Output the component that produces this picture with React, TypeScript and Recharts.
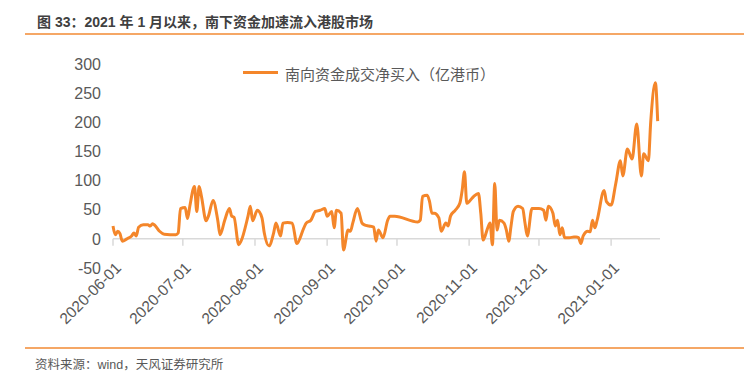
import React from "react";
import { LineChart, Line, XAxis, YAxis, ReferenceLine } from "recharts";

// 南向资金成交净买入（亿港币），日期与数值均从原图读取
const dates = [
  "2020-06-01", "2020-06-02", "2020-06-03", "2020-06-04", "2020-06-05", "2020-06-07", "2020-06-09", "2020-06-10",
  "2020-06-11", "2020-06-12", "2020-06-14", "2020-06-16", "2020-06-17", "2020-06-18", "2020-06-19", "2020-06-21",
  "2020-06-23", "2020-06-28", "2020-06-29", "2020-06-30", "2020-07-02", "2020-07-03", "2020-07-04", "2020-07-06",
  "2020-07-07", "2020-07-08", "2020-07-09", "2020-07-11", "2020-07-12", "2020-07-14", "2020-07-16", "2020-07-17",
  "2020-07-19", "2020-07-21", "2020-07-22", "2020-07-23", "2020-07-25", "2020-07-26", "2020-07-29", "2020-07-30",
  "2020-07-31", "2020-08-02", "2020-08-04", "2020-08-05", "2020-08-07", "2020-08-09", "2020-08-10", "2020-08-12",
  "2020-08-13", "2020-08-15", "2020-08-17", "2020-08-19", "2020-08-22", "2020-08-23", "2020-08-25", "2020-08-27",
  "2020-08-29", "2020-08-31", "2020-09-01", "2020-09-03", "2020-09-04", "2020-09-05", "2020-09-07", "2020-09-08",
  "2020-09-10", "2020-09-11", "2020-09-12", "2020-09-14", "2020-09-16", "2020-09-17", "2020-09-19", "2020-09-21",
  "2020-09-22", "2020-09-23", "2020-09-25", "2020-09-27", "2020-09-28", "2020-09-30", "2020-10-10", "2020-10-11",
  "2020-10-12", "2020-10-14", "2020-10-15", "2020-10-16", "2020-10-17", "2020-10-19", "2020-10-20", "2020-10-22",
  "2020-10-23", "2020-10-24", "2020-10-26", "2020-10-28", "2020-10-29", "2020-10-30", "2020-10-31", "2020-11-01",
  "2020-11-03", "2020-11-05", "2020-11-06", "2020-11-07", "2020-11-09", "2020-11-10", "2020-11-11", "2020-11-12",
  "2020-11-13", "2020-11-14", "2020-11-16", "2020-11-17", "2020-11-18", "2020-11-19", "2020-11-20", "2020-11-22",
  "2020-11-24", "2020-11-25", "2020-11-26", "2020-11-28", "2020-12-01", "2020-12-03", "2020-12-04", "2020-12-05",
  "2020-12-07", "2020-12-08", "2020-12-09", "2020-12-10", "2020-12-11", "2020-12-12", "2020-12-14", "2020-12-16",
  "2020-12-17", "2020-12-18", "2020-12-19", "2020-12-20", "2020-12-22", "2020-12-23", "2020-12-24", "2020-12-25",
  "2020-12-26", "2020-12-29", "2020-12-30", "2021-01-01", "2021-01-03", "2021-01-05", "2021-01-06", "2021-01-08",
  "2021-01-10", "2021-01-12", "2021-01-14", "2021-01-15", "2021-01-17", "2021-01-18", "2021-01-20", "2021-01-21",
];

const netBuy = [
  22, 7, 13, 9, -4, 0, 5, 10,
  5, 20, 24, 24, 22, 26, 23, 13,
  8, 7, 10, 52, 54, 35, 56, 90,
  47, 90, 73, 31, 39, 66, 32, 7,
  32, 52, 39, 37, -10, -4, 39, 56,
  31, 49, 36, 10, -12, 10, 27, 5,
  27, 28, 27, -8, 19, 27, 32, 47,
  49, 52, 39, 47, 19, 49, 44, -19,
  15, 13, 27, 52, 27, 24, 22, 20,
  -4, 15, 2, 32, 39, 39, 29, 32,
  73, 75, 64, 44, 44, 36, 13, 27,
  22, 39, 49, 61, 83, 115, 61, 64,
  73, 78, 44, -2, 19, 27, -10, 95,
  15, 32, 27, 15, -4, 22, 47, 56,
  52, 27, 5, 52, 52, 49, 32, 56,
  44, 22, 32, 7, 19, 2, 2, 3,
  3, 2, -8, 5, 13, 12, 32, 19,
  32, 83, 64, 58, 95, 134, 108, 154,
  137, 197, 108, 146, 134, 200, 268, 202,
];

const tickLabels = [
  "2020-06-01", "2020-07-01", "2020-08-01", "2020-09-01",
  "2020-10-01", "2020-11-01", "2020-12-01", "2021-01-01",
];
const axisEnd = "2021-01-22";
const yTicks = [-50, 0, 50, 100, 150, 200, 250, 300];

const base = Date.parse("2020-06-01");
const dayOf = (d: string) => Math.round((Date.parse(d) - base) / 86400000);

const data = dates.map((d, i) => ({ t: dayOf(d), v: netBuy[i] }));
const xTicks = tickLabels.map(dayOf);

const FONT = "'Liberation Sans', Arial, 'Noto Sans CJK SC', sans-serif";
const ORANGE = "#F4862A";

function DateTick(props: any) {
  const { x, y, payload } = props;
  const label = tickLabels[xTicks.indexOf(payload.value)] ?? "";
  const ax = x + 9;
  const ay = y + 1;
  return (
    <text
      x={ax}
      y={ay}
      textAnchor="end"
      fontSize={15.5}
      fill="#595959"
      fontFamily={FONT}
      transform={`rotate(-45, ${ax}, ${ay})`}
    >
      {label}
    </text>
  );
}

export default function App() {
  return (
    <div
      style={{
        position: "absolute",
        left: 0,
        top: 0,
        width: 744,
        height: 391,
        background: "#fff",
        fontFamily: FONT,
      }}
    >
      <div
        style={{
          position: "absolute",
          left: 37,
          top: 11,
          fontSize: 14,
          fontWeight: "bold",
          color: "#404040",
          whiteSpace: "nowrap",
        }}
      >
        图 33：2021 年 1 月以来，南下资金加速流入港股市场
      </div>
      <div style={{ position: "absolute", left: 25, right: 0, top: 33, height: 2, background: "#F5A766" }} />

      <LineChart
        width={744}
        height={391}
        data={data}
        margin={{ top: 64, right: 84, bottom: 0, left: 0 }}
        style={{ position: "absolute", left: 0, top: 0 }}
      >
        <XAxis
          dataKey="t"
          type="number"
          domain={[0, dayOf(axisEnd)]}
          ticks={xTicks}
          axisLine={false}
          tickLine={false}
          tickSize={0}
          tickMargin={0}
          interval={0}
          tick={<DateTick />}
          height={123}
        />
        <YAxis
          type="number"
          domain={[-50, 300]}
          ticks={yTicks}
          axisLine={false}
          tickLine={false}
          tickSize={0}
          tickMargin={12}
          width={113}
          interval={0}
          tick={{ fontSize: 16, fill: "#595959", fontFamily: FONT }}
        />
        <ReferenceLine y={0} stroke="#D9D9D9" strokeWidth={1.5} />
        {xTicks.map((t) => (
          <ReferenceLine
            key={t}
            segment={[
              { x: t, y: 0 },
              { x: t, y: -12 },
            ]}
            stroke="#D9D9D9"
            strokeWidth={1.5}
          />
        ))}
        <Line
          type="monotone"
          dataKey="v"
          stroke={ORANGE}
          strokeWidth={3}
          dot={false}
          isAnimationActive={false}
        />
      </LineChart>

      <div style={{ position: "absolute", left: 243, top: 71, width: 35, height: 3, background: ORANGE }} />
      <div
        style={{
          position: "absolute",
          left: 285,
          top: 63,
          fontSize: 15,
          color: "#595959",
          whiteSpace: "nowrap",
        }}
      >
        南向资金成交净买入（亿港币）
      </div>

      <div style={{ position: "absolute", left: 25, right: 0, top: 347, height: 2, background: "#F5A766" }} />
      <div
        style={{
          position: "absolute",
          left: 35,
          top: 354,
          fontSize: 12.5,
          color: "#595959",
          whiteSpace: "nowrap",
        }}
      >
        资料来源：wind，天风证券研究所
      </div>
    </div>
  );
}
